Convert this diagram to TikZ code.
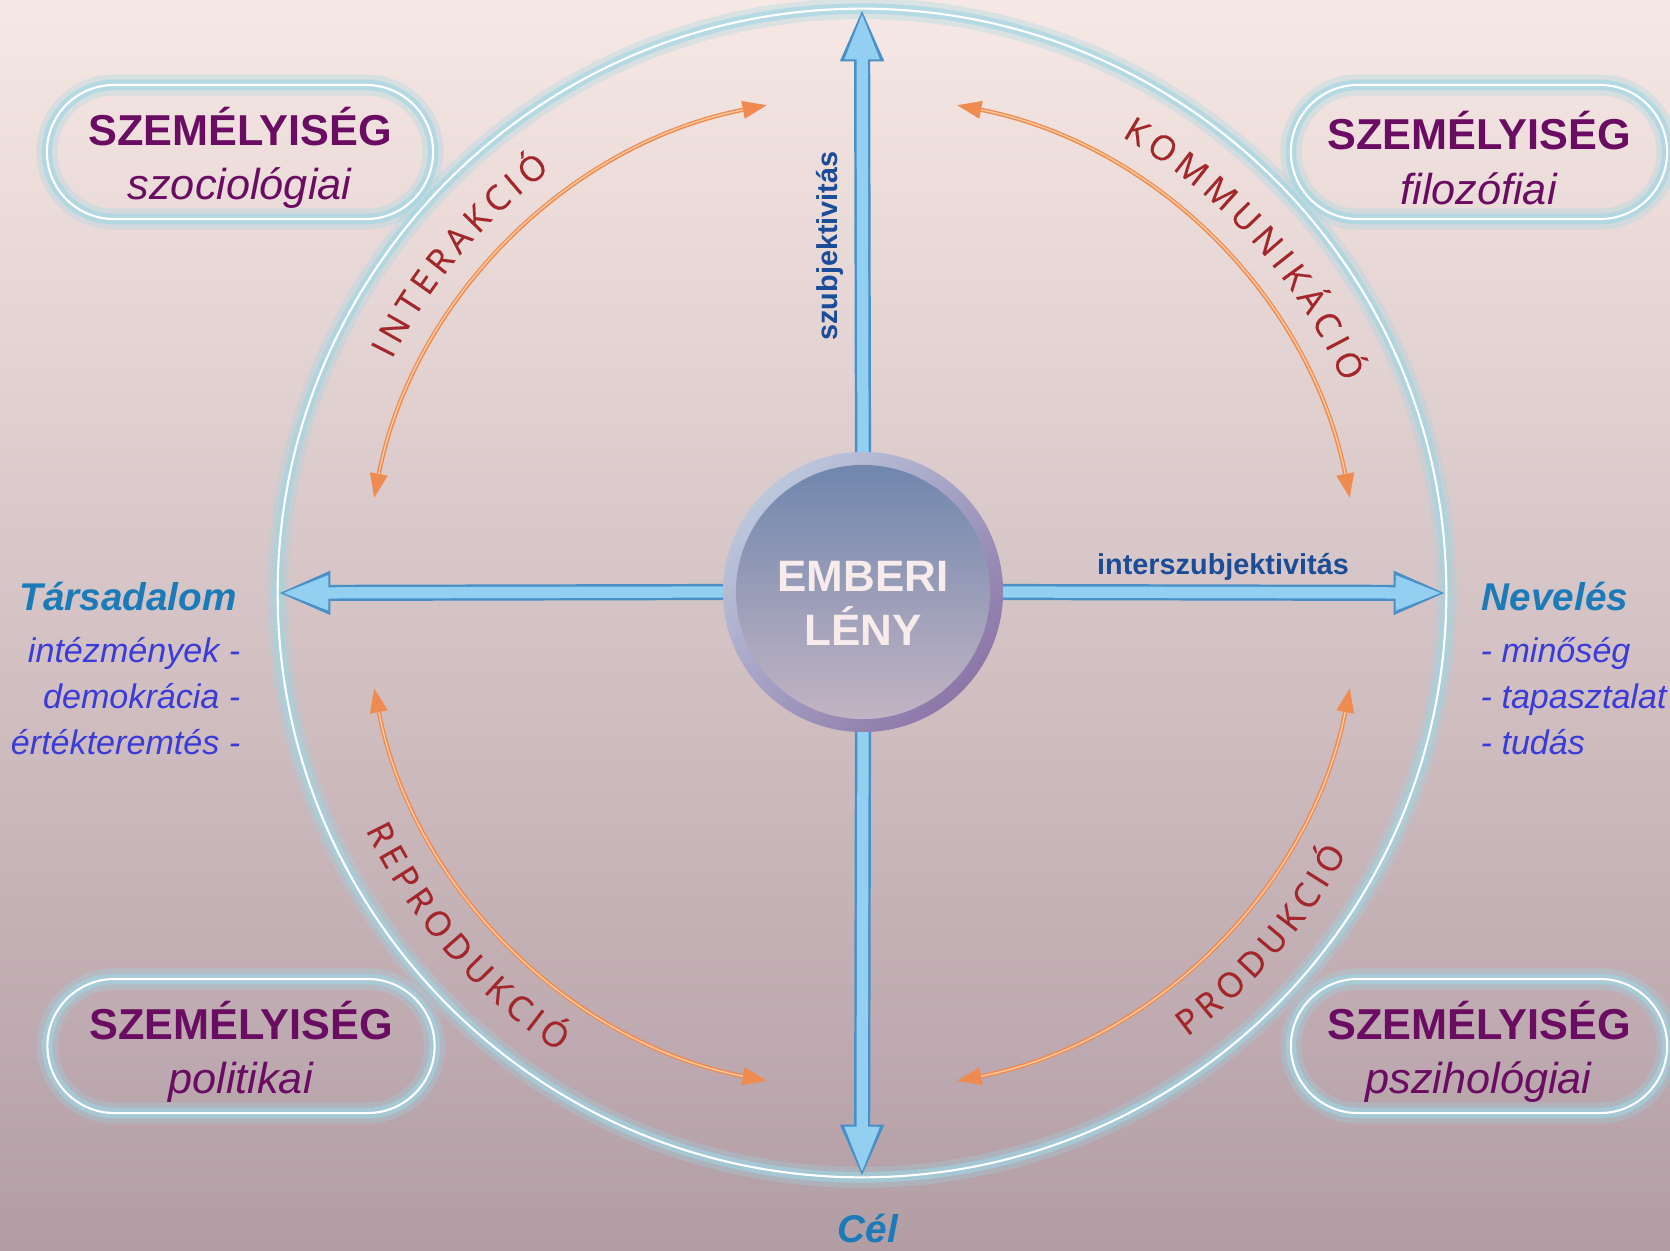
\documentclass[tikz,border=0pt]{standalone}
\usepackage{fontspec}
\setmainfont{Liberation Sans}
\newfontfamily\arcfont[FakeBold=0.3]{Open Sans}
\usetikzlibrary{arrows.meta, calc, decorations.text}

\definecolor{bgtop}{HTML}{F6E8E4}
\definecolor{bgmid}{HTML}{E4CFCF}
\definecolor{bgbot}{HTML}{B29DA5}
\definecolor{glowcyan}{HTML}{9ED6E4}
\definecolor{titlepurple}{HTML}{6A0C62}
\definecolor{headblue}{HTML}{1B7BB8}
\definecolor{listblue}{HTML}{3B3BD9}
\definecolor{axisblue}{HTML}{1B4C98}
\definecolor{arcred}{HTML}{A3262B}
\definecolor{arcorange}{HTML}{EF8B50}
\definecolor{arclight}{HTML}{F9C9A0}
\definecolor{axisfill}{HTML}{92CFF1}
\definecolor{axisedge}{HTML}{4A90C6}
\definecolor{corerimlight}{HTML}{BCC7DC}
\definecolor{corerimdark}{HTML}{8C77A8}
\definecolor{coretop}{HTML}{6C84AC}
\definecolor{corebot}{HTML}{C6B6C4}
\definecolor{coretext}{HTML}{F7EBEB}

% box title, raised so that the text sits a little lower in the box
\newcommand{\persona}[1]{\raisebox{0pt}[14.3pt]{\textbf{SZEMÉLYISÉG}}\\\textit{#1}}

\tikzset{
  glow/.style={draw=white, line width=0.6pt,
    preaction={draw=glowcyan, draw opacity=0.3, line width=6pt},
    preaction={draw=glowcyan, draw opacity=0.6, line width=3pt}},
  pill/.style={glow, rectangle, rounded corners=0.67cm, minimum height=1.34cm,
    inner sep=0pt, align=center, text=titlepurple, font=\fontsize{12.3}{15.4}\selectfont},
  heading/.style={text=headblue, inner sep=0pt, font=\fontsize{11}{13}\selectfont\bfseries\itshape},
  listitem/.style={text=listblue, inner sep=0pt, font=\fontsize{9.7}{12}\selectfont\itshape},
  axislabel/.style={text=axisblue, font=\fontsize{8.2}{10}\selectfont\bfseries},
  axisout/.style={line width=4.6pt, draw=axisedge, -{Triangle[length=15pt, width=11.4pt]}},
  axisin/.style={line width=3.2pt, draw=axisfill, shorten >=1pt, -{Triangle[length=13.4pt, width=9pt]}},
  looparc/.style={line width=1.2pt, draw=arcorange, {Triangle[length=7pt, width=4.8pt]}-{Triangle[length=7pt, width=4.8pt]}},
  arclabel/.style={decorate, decoration={text along path, text align=center, text color=arcred,
    text={|\arcfont\fontsize{9.8}{11}\selectfont\fontdimen2\font=0.17em|#1}}}
}

\begin{document}
\begin{tikzpicture}[x=0.01cm, y=0.01cm]
  \useasboundingbox (0,0) rectangle (1670,1250);
  \shade[top color=bgtop, middle color=bgmid, bottom color=bgbot] (0,0) rectangle (1670,1250);

  % outer ring
  \node[glow, circle, minimum size=11.68cm, inner sep=0pt, outer sep=0pt] (ring) at (862,657) {};

  % personality boxes
  \node[pill, minimum width=3.86cm] (soc) at (240,1098) {\persona{szociológiai}};
  \node[pill, minimum width=3.76cm] (fil) at (1479,1098) {\persona{filozófiai}};
  \node[pill, minimum width=3.87cm] (pol) at (241,204) {\persona{politikai}};
  \node[pill, minimum width=3.76cm] (psz) at (1479,204) {\persona{pszihológiai}};

  % centre
  \node[circle, minimum size=2.8cm, inner sep=0pt, outer sep=0pt,
    top color=corerimlight, bottom color=corerimdark, shading angle=45,
    path picture={\shade[top color=coretop, bottom color=corebot]
      (path picture bounding box.center) circle[radius=1.27cm];},
    text=coretext, align=center, font=\fontsize{12.5}{15.4}\selectfont\bfseries]
    (core) at (863,658) {\raisebox{0pt}[15pt]{EMBERI}\\LÉNY};

  % axes
  \foreach \side in {north, south, east, west} {
    \draw[axisout] (core.\side) -- (ring.\side);
    \draw[axisin] (core.\side) -- (ring.\side);
  }
  \node[axislabel] (inter) at (1223,683) {interszubjektivitás};
  \node[axislabel, rotate=90] (subj) at (830,1004) {szubjektivitás};

  % side texts
  \node[heading, anchor=base] (tars) at (128,640) {Társadalom};
  \node[heading, anchor=base] (nev) at (1555,640) {Nevelés};
  \node[heading, anchor=base] (cel) at (868,8) {Cél};
  \foreach \entry [count=\i] in {intézmények -, demokrácia -, értékteremtés -}
    \node[listitem, anchor=base east] (tars\i) at (241,634-46*\i) {\entry};
  \foreach \entry [count=\i] in {- minőség, - tapasztalat, - tudás}
    \node[listitem, anchor=base west] (nev\i) at (1480,634-46*\i) {\entry};

  % orange cycles
  \foreach \a in {11, 101, 191, 281} {
    \draw[looparc] ($(ring.center)+(\a:497)$) arc[start angle=\a, end angle=\a+68, radius=497];
    \draw[arclight, line width=0.4pt, shorten <=7pt, shorten >=7pt]
      ($(ring.center)+(\a:497)$) arc[start angle=\a, end angle=\a+68, radius=497];
  }
  \path[arclabel={I N T E R A K C I Ó}] ($(ring.center)+(180:525)$) arc[start angle=180, end angle=100, radius=525];
  \path[arclabel={K O M M U N I K Á C I Ó}] ($(ring.center)+(82:525)$) arc[start angle=82, end angle=2, radius=525];
  \path[arclabel={R E P R O D U K C I Ó}] ($(ring.center)+(181:550)$) arc[start angle=181, end angle=261, radius=550];
  \path[arclabel={P R O D U K C I Ó}] ($(ring.center)+(279:550)$) arc[start angle=279, end angle=359, radius=550];
\end{tikzpicture}
\end{document}
